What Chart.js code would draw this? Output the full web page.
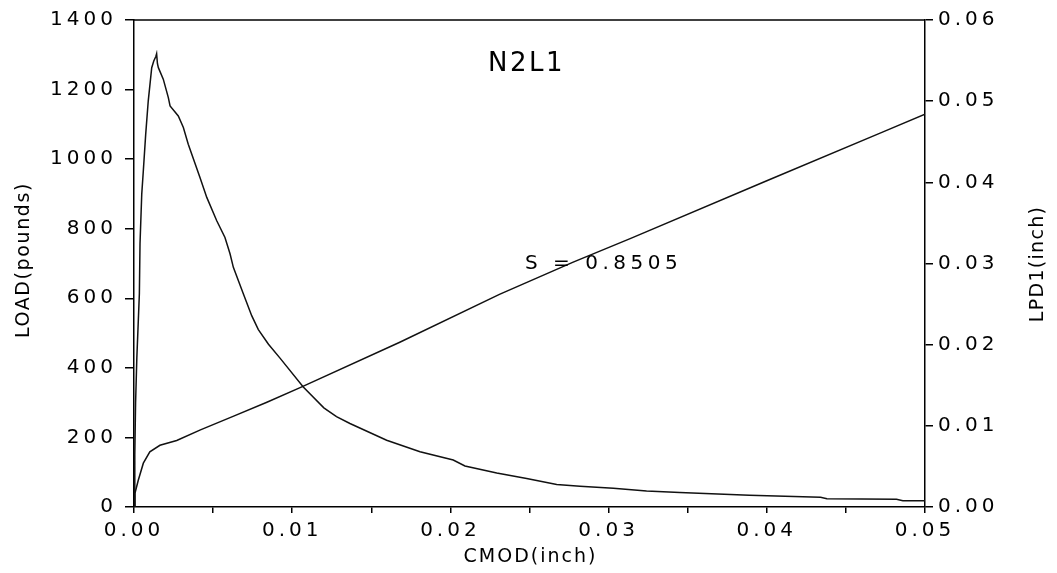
<!DOCTYPE html>
<html>
<head>
<meta charset="utf-8">
<script src="https://cdn.jsdelivr.net/npm/chart.js@4/dist/chart.umd.min.js"></script>
<style>
html,body{margin:0;padding:0;background:#fff;}
#wrap{width:1057px;height:573px;}
</style>
</head>
<body>
<div id="wrap"><canvas id="c" width="1057" height="573"></canvas></div>
<script>
// ---- data ----
const loadX = [0, 0.00005, 0.0001, 0.00018, 0.00034, 0.00038, 0.00049, 0.00058, 0.00074, 0.0009, 0.00112, 0.00125, 0.00138, 0.00143, 0.00148, 0.00154, 0.00185, 0.00217, 0.00228, 0.0028, 0.00312, 0.00343, 0.00417, 0.0046, 0.00523, 0.00575, 0.00607, 0.00628, 0.00691, 0.00744, 0.00786, 0.0085, 0.00923, 0.0107, 0.0120, 0.0128, 0.01365, 0.01597, 0.01808, 0.02018, 0.02092, 0.02293, 0.02482, 0.02672, 0.02819, 0.0303, 0.0324, 0.0345, 0.0389, 0.0434, 0.0438, 0.0482, 0.0486, 0.05];
const loadY = [0, 150, 300, 430, 614, 757, 900, 960, 1072, 1167, 1263, 1282, 1295, 1303, 1275, 1263, 1230, 1177, 1153, 1124, 1091, 1043, 947, 890, 823, 775, 728, 689, 613, 550, 510, 468, 428, 345, 285, 260, 240, 192, 159, 135, 118, 98, 82, 65, 60, 54, 46, 42, 34, 28, 24, 22, 18, 18];
const lpdX = [0, 0.00006, 0.00027, 0.00059, 0.001, 0.00164, 0.0027, 0.0042, 0.0063, 0.0084, 0.0105, 0.0168, 0.0231, 0.0278, 0.0314, 0.0400, 0.0472, 0.0500];
const lpdY = [0, 0.0017, 0.0033, 0.0054, 0.0068, 0.0076, 0.0082, 0.0095, 0.0112, 0.0129, 0.0147, 0.0203, 0.0262, 0.0302, 0.0331, 0.0402, 0.0461, 0.0484];
const xTickStep = 0.005;
const loadTickStep = 200;
const lpdTickStep = 0.01;
const chartTitle = "N2L1";
const titleAt = [0.02238, 1274];
const slopeNote = "S = 0.8505";
const slopeAt = [0.02472, 700];
const xTitle = "CMOD(inch)";
const yTitle = "LOAD(pounds)";
const y1Title = "LPD1(inch)";

const FONT = '"DejaVu Sans", sans-serif';

const textPlugin = {
  id: 'textPlugin',
  beforeDraw(chart) {
    chart.ctx.letterSpacing = '4px';
  },
  afterDraw(chart) {
    const ctx = chart.ctx;
    const {left, right, top, bottom} = chart.chartArea;
    const xs = chart.scales.x, ys = chart.scales.y;
    ctx.save();
    ctx.strokeStyle = '#000';
    ctx.lineWidth = 1.5;
    ctx.beginPath(); ctx.moveTo(left, top); ctx.lineTo(right, top); ctx.stroke();
    ctx.fillStyle = '#000';
    ctx.textBaseline = 'middle';
    ctx.textAlign = 'left';
    ctx.letterSpacing = '2.5px';
    ctx.font = '26px ' + FONT;
    ctx.fillText(chartTitle, xs.getPixelForValue(titleAt[0]), ys.getPixelForValue(titleAt[1]));
    ctx.letterSpacing = '4.5px';
    ctx.font = '20px ' + FONT;
    ctx.fillText(slopeNote, xs.getPixelForValue(slopeAt[0]), ys.getPixelForValue(slopeAt[1]));
    // axis titles
    ctx.font = '19px ' + FONT;
    ctx.letterSpacing = '2px';
    ctx.textAlign = 'center';
    ctx.fillText(xTitle, (left + right) / 2 + 1, 557);
    ctx.save();
    ctx.translate(24, 260);
    ctx.rotate(-Math.PI / 2);
    ctx.letterSpacing = '1.6px';
    ctx.fillText(yTitle, 0, 0);
    ctx.restore();
    ctx.save();
    ctx.translate(1038, 264);
    ctx.rotate(-Math.PI / 2);
    ctx.letterSpacing = '1.3px';
    ctx.fillText(y1Title, 0, 0);
    ctx.restore();
    ctx.restore();
  }
};

const toPts = (xs, ys) => xs.map((x, i) => ({x: x, y: ys[i]}));

new Chart(document.getElementById('c'), {
  type: 'line',
  data: {
    datasets: [
      {label: 'LOAD', data: toPts(loadX, loadY), yAxisID: 'y', borderColor: '#111', borderWidth: 1.5, pointRadius: 0, tension: 0, fill: false},
      {label: 'LPD1', data: toPts(lpdX, lpdY), yAxisID: 'y1', borderColor: '#111', borderWidth: 1.5, pointRadius: 0, tension: 0, fill: false}
    ]
  },
  options: {
    responsive: false,
    animation: false,
    events: [],
    layout: {padding: {top: 19, left: 0, right: 0, bottom: 0}},
    plugins: {legend: {display: false}, tooltip: {enabled: false}},
    scales: {
      x: {
        type: 'linear', position: 'bottom', min: 0, max: 0.05,
        afterFit(s) { s.height = 66; },
        afterBuildTicks(s) {
          const t = [];
          for (let i = 0; i <= Math.round((0.05) / xTickStep); i++) t.push({value: +(i * xTickStep).toFixed(4)});
          s.ticks = t;
        },
        ticks: {
          autoSkip: false, maxRotation: 0, color: '#000', padding: 6,
          font: {family: FONT, size: 20},
          callback: (v) => (Math.round(v * 1000) % 10 === 0) ? v.toFixed(2) : ''
        },
        grid: {display: true, drawOnChartArea: false, drawTicks: true, tickLength: 6, color: '#000', lineWidth: 1.5},
        border: {display: true, color: '#000', width: 1.5}
      },
      y: {
        type: 'linear', position: 'left', min: 0, max: 1400,
        afterFit(s) { s.width = 134; },
        ticks: {stepSize: loadTickStep, color: '#000', padding: 8, font: {family: FONT, size: 20},
          callback: (v) => String(v)},
        grid: {display: true, drawOnChartArea: false, drawTicks: true, tickLength: 9, color: '#000', lineWidth: 1.5},
        border: {display: true, color: '#000', width: 1.5}
      },
      y1: {
        type: 'linear', position: 'right', min: 0, max: 0.06,
        afterFit(s) { s.width = 132; },
        ticks: {stepSize: lpdTickStep, color: '#000', padding: 5, font: {family: FONT, size: 20},
          callback: (v) => v.toFixed(2)},
        grid: {display: true, drawOnChartArea: false, drawTicks: true, tickLength: 8, color: '#000', lineWidth: 1.5},
        border: {display: true, color: '#000', width: 1.5}
      }
    }
  },
  plugins: [textPlugin]
});
</script>
</body>
</html>
